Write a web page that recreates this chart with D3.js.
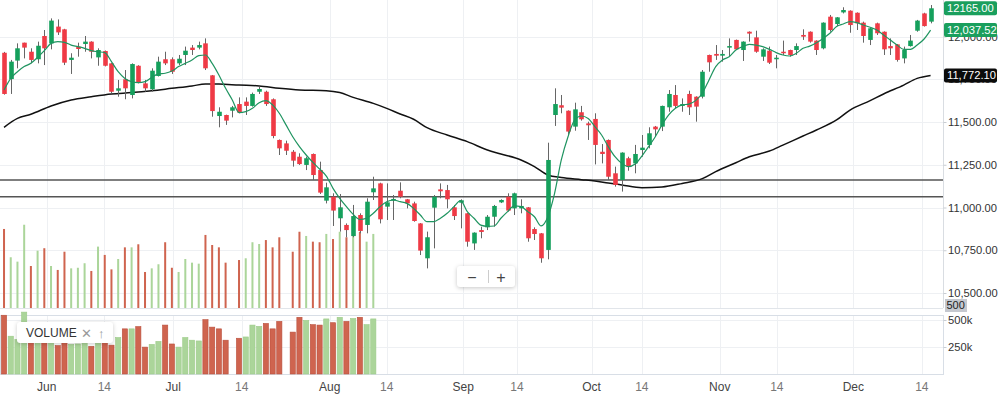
<!DOCTYPE html>
<html>
<head>
<meta charset="utf-8">
<script src="https://cdn.jsdelivr.net/npm/d3@7"></script>
<style>
  body { margin: 0; background: #fff; }
  svg { font-family: "Liberation Sans", Arial, sans-serif; }
</style>
</head>
<body>
<div id="chart"></div>
<script>
// daily candles, index 0..138
const open = [11905,11751,11859,11964,11911,11867,12003,11960,12058,12042,
  11863,11940,11956,11970,11878,11915,11843,11683,11750,11658,
  11829,11726,11691,11769,11867,11867,11843,11892,11935,11935,
  11960,11773,11535,11541,11566,11605,11619,11594,11677,11677,
  11633,11395,11375,11326,11297,11249,11313,11219,11040,11063,
  10937,10898,10833,10956,10898,11089,11141,11005,11040,11098,
  11048,11024,10907,10703,10999,11106,11102,11001,11028,10966,
  10790,10868,10884,10946,11030,11063,10995,10995,11001,10874,
  10849,10752,11541,11598,11566,11473,11557,11492,11518,11326,
  11395,11200,11161,11288,11258,11336,11366,11473,11473,11586,
  11658,11594,11664,11648,11648,11892,11898,11888,11935,11980,
  11921,12028,11995,11882,11917,11867,11911,11921,11921,12009,
  12028,11976,11931,12116,12073,12141,12151,12139,12081,11980,
  12077,12028,11944,11954,11872,11944,12034,12135,12087];
const high = [11910,11863,11960,11964,11931,11970,12038,12106,12100,12045,
  11902,11964,12003,11972,11931,11918,11845,11746,11804,11843,
  11832,11746,11814,11882,11911,11878,11892,11941,11950,11970,
  11989,11775,11586,11543,11594,11644,11644,11672,11707,11683,
  11638,11398,11391,11336,11317,11297,11316,11268,11145,11083,
  11079,10907,11015,10966,11054,11180,11145,11141,11073,11147,
  11050,11034,10909,10859,11073,11141,11132,11015,11048,10968,
  10855,10888,10956,11015,11048,11083,11087,11048,11003,10884,
  10851,11379,11697,11658,11568,11613,11594,11502,11551,11371,
  11398,11239,11323,11297,11366,11424,11469,11477,11596,11687,
  11716,11638,11683,11650,11804,11894,11950,11921,11989,11982,
  11972,12030,12034,11931,11941,11892,11976,11923,11960,12042,
  12030,11978,12083,12126,12114,12171,12153,12141,12087,12050,
  12081,12030,11989,11956,11941,12009,12097,12139,12184];
const low = [11660,11664,11814,11872,11843,11843,11833,11925,12009,11833,
  11781,11882,11911,11872,11829,11825,11668,11648,11633,11638,
  11726,11677,11677,11766,11833,11781,11833,11833,11892,11925,
  11804,11531,11469,11483,11527,11551,11541,11590,11664,11594,
  11405,11307,11307,11239,11249,11219,11161,11079,11024,10892,
  10859,10826,10826,10849,10849,11044,10907,10927,10927,11054,
  10995,10917,10722,10644,10761,11054,10995,10927,10878,10771,
  10752,10820,10868,10888,11026,10976,10956,10966,10800,10810,
  10677,10697,11477,11551,11424,11449,11508,11395,11252,11258,
  11161,11122,11093,11215,11200,11297,11346,11418,11447,11560,
  11580,11560,11541,11502,11638,11794,11863,11853,11882,11921,
  11857,11970,11905,11857,11839,11814,11892,11882,11892,11980,
  11964,11892,11925,12028,12061,12135,12022,12038,11964,11950,
  12009,11892,11892,11853,11843,11941,12028,12058,12077];
const close = [11664,11853,11931,11935,11863,11946,11931,12093,12024,11847,
  11876,11927,11970,11911,11921,11829,11677,11697,11697,11839,
  11730,11697,11800,11853,11843,11794,11870,11917,11921,11950,
  11814,11564,11560,11508,11586,11555,11594,11664,11693,11605,
  11418,11346,11332,11274,11254,11288,11190,11087,11118,10982,
  11001,10868,10950,10863,11034,11112,10931,11030,11050,11063,
  11024,10921,10748,10826,11063,11095,11048,10950,11042,10800,
  10853,10857,10946,11009,11044,10982,11083,11009,10820,10845,
  10703,11278,11605,11584,11444,11574,11516,11481,11366,11313,
  11180,11132,11321,11239,11313,11350,11434,11457,11594,11664,
  11594,11605,11586,11590,11794,11849,11888,11898,11944,11925,
  11970,12017,11911,11925,11847,11876,11902,11892,11944,11999,
  11970,11921,12081,12038,12112,12155,12067,12077,12003,12048,
  12019,11925,11931,11863,11921,11976,12093,12061,12165];

// short moving average (green), one value per candle
const maFast = [11687,11755,11794,11824,11843,11878,11917,11960,11970,11966,
  11950,11941,11931,11917,11911,11906,11853,11794,11755,11736,
  11730,11736,11761,11781,11785,11798,11824,11843,11863,11888,
  11892,11843,11775,11697,11629,11555,11561,11580,11613,11625,
  11600,11551,11483,11414,11356,11307,11264,11225,11184,11112,
  11054,11005,10960,10930,10937,10966,11005,11034,11044,11034,
  11024,10995,10956,10917,10917,10937,10966,11005,11040,10976,
  10937,10897,10890,10892,10937,10976,11009,11005,10976,10946,
  10892,10946,11083,11278,11414,11512,11535,11521,11473,11424,
  11356,11297,11258,11239,11254,11301,11356,11414,11483,11541,
  11580,11600,11605,11625,11668,11746,11824,11863,11882,11921,
  11941,11954,11950,11941,11925,11906,11892,11886,11902,11931,
  11944,11964,11989,12019,12058,12073,12087,12081,12067,12054,
  12038,12009,11980,11950,11925,11925,11950,11984,12037.52];

// long moving average (black), read at these candle indices
const maSlowIdx = [0,2,4,7,10,13,16,19,22,25,28,30,32,35,38,41,44,48,50,52,55,57,59,61,63,
  66,69,72,74,77,79,81,83,86,88,90,92,95,98,101,104,106,109,111,114,116,119,121,124,126,129,131,134,136,138];
const maSlowVal = [11469,11521,11545,11594,11629,11648,11664,11672,11683,11697,11711,11722,11722,11716,11711,11697,11687,11683,11672,11644,11609,11580,11547,11516,11467,
  11424,11385,11336,11313,11278,11239,11190,11175,11163,11155,11143,11132,11116,11120,11141,11169,11210,11262,11297,11330,11365,11418,11453,11512,11570,11625,11664,11716,11755,11772.10];

// volume, only the first 56 days have it (null = missing)
const volume = [544,350,320,573,290,395,412,290,263,388,
  274,278,309,256,423,366,267,338,418,418,
  439,249,274,302,453,278,249,338,313,306,
  503,434,418,313,null,331,343,453,441,468,
  418,487,null,388,525,496,457,453,510,475,
  525,487,514,525,457,510].map(v => v == null ? null : v * 1000);
const volUp = [0,1,1,1,0,1,0,1,0,0, 1,1,1,0,1,0,0,1,0,1,
  0,0,1,1,0,0,1,1,1,1, 0,0,0,0,0,0,1,1,1,0,
  0,0,0,0,0,1,0,0,1,0, 1,0,1,0,1,1];

const levels = [11161, 11063];
const priceTicks = [10500, 10750, 11000, 11250, 11500, 11750, 12000];
const volTicks = [250000, 500000];
const tickIdx = [6.36, 14.94, 25.2, 35.4, 48.5, 57.0, 68.4, 76.4, 87.5, 95.0, 106.6, 115.1, 126.5, 136.7];
const tickLabels = ["Jun","14","Jul","14","Aug","14","Sep","14","Oct","14","Nov","14","Dec","14"];

const width = 1000, height = 396;
const plotW = 943, mainBottom = 308, volTop = 315, volBottom = 374;

const green = "#15a05c", red = "#ef3a45";
const volGreen = "#abd59a", volRed = "#cf644f";
const gridColor = "#eef0f3";
const axisFont = 11.2;

const svg = d3.select("#chart").append("svg")
  .attr("width", width)
  .attr("height", height);

const x = d3.scaleLinear().domain([-0.6, 139.85]).range([0, plotW]);
const y = d3.scaleLinear().domain([10412.3, 12213.5]).range([mainBottom, 0]);
const yVolMain = d3.scaleLinear().domain([0, 600000]).range([mainBottom + 0.3, mainBottom + 0.3 - 87.5]);
const yVol = d3.scaleLinear().domain([0, 500000]).range([volBottom, 320]);

svg.append("defs").append("clipPath").attr("id", "mainClip")
  .append("rect").attr("x", 0).attr("y", 0).attr("width", plotW).attr("height", mainBottom);

// grid
const grid = svg.append("g");
grid.append("g").selectAll("line").data(priceTicks).join("line")
  .attr("x1", 0).attr("x2", plotW)
  .attr("y1", d => Math.round(y(d)) + 0.5).attr("y2", d => Math.round(y(d)) + 0.5)
  .attr("stroke", gridColor);
grid.append("g").selectAll("line").data(tickIdx).join("line")
  .attr("x1", d => Math.round(x(d)) + 0.5).attr("x2", d => Math.round(x(d)) + 0.5)
  .attr("y1", 0).attr("y2", mainBottom)
  .attr("stroke", gridColor);
grid.append("g").selectAll("line").data(tickIdx).join("line")
  .attr("x1", d => Math.round(x(d)) + 0.5).attr("x2", d => Math.round(x(d)) + 0.5)
  .attr("y1", volTop).attr("y2", volBottom)
  .attr("stroke", gridColor);
grid.append("g").selectAll("line").data(volTicks).join("line")
  .attr("x1", 0).attr("x2", plotW)
  .attr("y1", d => Math.round(yVol(d)) + 0.5).attr("y2", d => Math.round(yVol(d)) + 0.5)
  .attr("stroke", gridColor);

// pane borders
svg.append("line").attr("x1", 0).attr("x2", plotW)
  .attr("y1", mainBottom + 0.5).attr("y2", mainBottom + 0.5).attr("stroke", "#e1e5ea");
svg.append("line").attr("x1", plotW + 0.5).attr("x2", plotW + 0.5)
  .attr("y1", 0).attr("y2", mainBottom).attr("stroke", "#d9dde2");
svg.append("rect")
  .attr("x", 0.5).attr("y", volTop + 0.5)
  .attr("width", plotW).attr("height", volBottom - volTop)
  .attr("fill", "none").attr("stroke", "#d8dee6");

const days = d3.range(open.length);
const main = svg.append("g").attr("clip-path", "url(#mainClip)");

// volume overlay inside main pane
const volDays = d3.range(volume.length).filter(i => volume[i] != null);
main.append("g").selectAll("rect").data(volDays).join("rect")
  .attr("x", i => x(i) - 1)
  .attr("width", 2)
  .attr("y", i => yVolMain(volume[i]))
  .attr("height", i => yVolMain(0) - yVolMain(volume[i]))
  .attr("fill", i => volUp[i] ? volGreen : volRed);

// support levels
main.append("g").selectAll("line").data(levels).join("line")
  .attr("x1", 0).attr("x2", plotW)
  .attr("y1", d => y(d)).attr("y2", d => y(d))
  .attr("stroke", "#555").attr("stroke-width", 1.6);

// long MA
main.append("path")
  .datum(maSlowIdx.map((d, k) => [d, maSlowVal[k]]))
  .attr("fill", "none")
  .attr("stroke", "#111")
  .attr("stroke-width", 1.5)
  .attr("d", d3.line().x(d => x(d[0])).y(d => y(d[1])).curve(d3.curveMonotoneX));

// candles
const candles = main.append("g").selectAll("g").data(days).join("g");
candles.append("line")
  .attr("x1", i => Math.round(x(i)) + 0.5).attr("x2", i => Math.round(x(i)) + 0.5)
  .attr("y1", i => y(high[i])).attr("y2", i => y(low[i]))
  .attr("stroke", "#666").attr("stroke-width", 1);
candles.append("rect")
  .attr("x", i => Math.round(x(i)) + 0.5 - 2.3)
  .attr("width", 4.6)
  .attr("y", i => y(Math.max(open[i], close[i])))
  .attr("height", i => Math.max(1.5, Math.abs(y(open[i]) - y(close[i]))))
  .attr("fill", i => close[i] >= open[i] ? green : red);

// short MA
main.append("path")
  .datum(days)
  .attr("fill", "none")
  .attr("stroke", "#1f9460")
  .attr("stroke-width", 1.2)
  .attr("d", d3.line().x(i => x(i)).y(i => y(maFast[i])).curve(d3.curveMonotoneX));

// volume pane bars
svg.append("g").selectAll("rect").data(volDays).join("rect")
  .attr("x", i => x(i) - 2.6)
  .attr("width", 5.2)
  .attr("y", i => yVol(volume[i]))
  .attr("height", i => yVol(0) - yVol(volume[i]))
  .attr("fill", i => volUp[i] ? volGreen : volRed)
  .attr("stroke", i => volUp[i] ? "#9dcb89" : "#b9503d")
  .attr("stroke-width", 0.6);

// price axis on the right
const priceAxis = svg.append("g")
  .attr("transform", `translate(${plotW + 0.5},0)`)
  .call(d3.axisRight(y).tickValues(priceTicks).tickFormat(d3.format(",.2f")).tickSize(3).tickPadding(1.5));
priceAxis.select(".domain").remove();
priceAxis.selectAll("line").attr("stroke", "#c9cdd2");
priceAxis.selectAll("text").attr("fill", "#333").attr("font-size", axisFont)
  .attr("font-family", "'Liberation Sans', Arial, sans-serif");

const volAxis = svg.append("g")
  .attr("transform", `translate(${plotW + 0.5},0)`)
  .call(d3.axisRight(yVol).tickValues(volTicks).tickFormat(d => d / 1000 + "k").tickSize(3).tickPadding(1.5));
volAxis.select(".domain").remove();
volAxis.selectAll("line").attr("stroke", "#c9cdd2");
volAxis.selectAll("text").attr("fill", "#333").attr("font-size", axisFont)
  .attr("font-family", "'Liberation Sans', Arial, sans-serif");

// time axis labels
svg.append("g").selectAll("text").data(tickIdx).join("text")
  .attr("x", d => x(d))
  .attr("y", 391)
  .attr("text-anchor", "middle")
  .attr("font-size", 12)
  .attr("fill", (d, k) => tickLabels[k] === "14" ? "#777" : "#444")
  .text((d, k) => tickLabels[k]);

// value tags on the price axis
const tags = [
  {v: close[close.length - 1], text: d3.format(".2f")(close[close.length - 1]), bg: "#1a9f5d", fg: "#fff"},
  {v: maFast[maFast.length - 1], text: d3.format(",.2f")(maFast[maFast.length - 1]), bg: "#1a9f5d", fg: "#fff"},
  {v: maSlowVal[maSlowVal.length - 1], text: d3.format(",.2f")(maSlowVal[maSlowVal.length - 1]), bg: "#0b0b0b", fg: "#fff"}
];
const tagG = svg.append("g").selectAll("g").data(tags).join("g")
  .attr("transform", d => `translate(${plotW + 1},${y(d.v)})`);
tagG.append("rect")
  .attr("x", 0).attr("y", -7).attr("width", 53).attr("height", 14).attr("rx", 2)
  .attr("fill", d => d.bg);
tagG.append("text")
  .attr("x", 3).attr("y", 0).attr("dy", "0.35em")
  .attr("font-size", axisFont).attr("fill", d => d.fg)
  .text(d => d.text);

const volTag = svg.append("g").attr("transform", `translate(${plotW + 2},${mainBottom - 3})`);
volTag.append("rect").attr("x", 0).attr("y", -6).attr("width", 22).attr("height", 13)
  .attr("fill", "#c5c8cf");
volTag.append("text").attr("x", 1.5).attr("y", 0).attr("dy", "0.36em")
  .attr("font-size", 11).attr("fill", "#222").text("500");

// zoom buttons
const zoomBox = svg.append("g").attr("transform", "translate(457,266)");
zoomBox.append("rect").attr("width", 58).attr("height", 21).attr("rx", 3)
  .attr("fill", "#fff").style("filter", "drop-shadow(0 1px 2px rgba(0,0,0,0.22))");
zoomBox.append("line").attr("x1", 31.5).attr("x2", 31.5).attr("y1", 4).attr("y2", 17)
  .attr("stroke", "#ccc");
zoomBox.append("text").attr("x", 15).attr("y", 11).attr("dy", "0.35em")
  .attr("text-anchor", "middle").attr("font-size", 16).attr("fill", "#444").text("\u2212");
zoomBox.append("text").attr("x", 44).attr("y", 11).attr("dy", "0.35em")
  .attr("text-anchor", "middle").attr("font-size", 16).attr("fill", "#444").text("+");

// volume legend chip
const legend = svg.append("g").attr("transform", "translate(17,322)");
legend.append("rect").attr("width", 96).attr("height", 21).attr("rx", 3)
  .attr("fill", "#fff").style("filter", "drop-shadow(0 1px 2px rgba(0,0,0,0.2))");
legend.append("text").attr("x", 9).attr("y", 11).attr("dy", "0.35em")
  .attr("font-size", 12).attr("fill", "#333").text("VOLUME");
legend.append("text").attr("x", 64).attr("y", 11).attr("dy", "0.35em")
  .attr("font-size", 13).attr("fill", "#999").text("\u2715");
legend.append("text").attr("x", 81).attr("y", 11).attr("dy", "0.35em")
  .attr("font-size", 13).attr("fill", "#999").text("\u2191");
</script>
</body>
</html>
